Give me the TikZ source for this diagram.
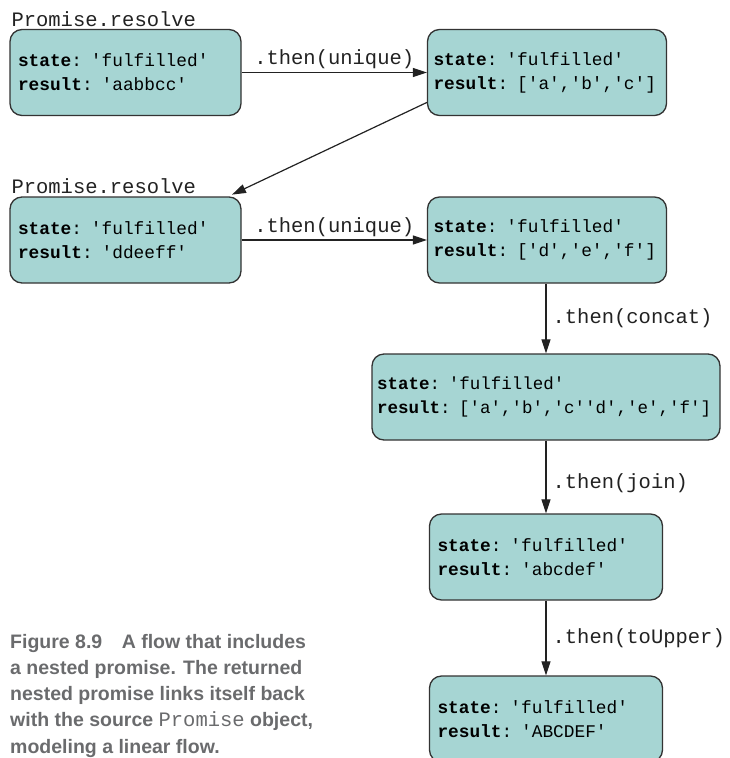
\documentclass[tikz,border=0pt]{standalone}
\usepackage{fontspec}
\setmonofont{Liberation Mono}
\setsansfont{Liberation Sans}
\usepackage{xcolor}
\usepackage{tikz}
\usetikzlibrary{arrows.meta, positioning}
\definecolor{boxfill}{HTML}{A6D5D3}
\definecolor{boxborder}{HTML}{333333}
\definecolor{arrowcol}{HTML}{222222}
\definecolor{captiongray}{HTML}{6A6B6D}
\tikzset{
    promise_box/.style={
        rectangle, rounded corners=12pt, minimum height=86pt, text width=#1,
        align=left, inner xsep=8pt, draw=boxborder, fill=boxfill, line width=1.3pt,
        font=\ttfamily\fontsize{17.8}{24}\selectfont
    },
    then_label/.style={
        font=\ttfamily\fontsize{20.5}{24}\selectfont, text=arrowcol, inner sep=3pt
    },
    arrow/.style={
        line width=1.2pt, -{Triangle[length=14pt, width=9pt]}, draw=arrowcol
    }
}

\begin{document}
\begin{tikzpicture}[x=1pt, y=-1pt]
    \useasboundingbox (0,0) rectangle (729,758);

    % Erste Kette
    \node[promise_box=215pt] (res_a) at (125.5, 72.5) {\textbf{state}: 'fulfilled'\\\textbf{result}: 'aabbcc'};
    \node[promise_box=227pt, inner xsep=6pt] (uniq_a) at (547, 72.5) {\textbf{state}: 'fulfilled'\\\textbf{result}: ['a','b','c']};
    \node[then_label, anchor=south west, inner sep=2pt] (lbl_res_a) at (res_a.north west) {Promise.resolve};
    \draw[arrow] (res_a.east) -- node[then_label, above] {.then(unique)} (uniq_a.west);

    % Verschachtelte Kette
    \node[promise_box=215pt] (res_d) at (125.5, 240) {\textbf{state}: 'fulfilled'\\\textbf{result}: 'ddeeff'};
    \node[promise_box=227pt, inner xsep=6pt] (uniq_d) at (547, 240) {\textbf{state}: 'fulfilled'\\\textbf{result}: ['d','e','f']};
    \node[then_label, anchor=south west, inner sep=2pt] (lbl_res_d) at (res_d.north west) {Promise.resolve};
    \draw[arrow] (res_d.east) -- node[then_label, above] {.then(unique)} (uniq_d.west);
    \draw[arrow, shorten >=4pt] (uniq_a.194) -- (res_d.23);

    % Zusammenfuehrung
    \node[promise_box=338pt, inner xsep=5pt, font=\ttfamily\fontsize{17.5}{24}\selectfont] (concat) at (546, 397) {\textbf{state}: 'fulfilled'\\\textbf{result}: ['a','b','c''d','e','f']};
    \node[promise_box=217pt] (joined) at (546, 557) {\textbf{state}: 'fulfilled'\\\textbf{result}: 'abcdef'};
    \node[promise_box=217pt] (upper) at (546, 719) {\textbf{state}: 'fulfilled'\\\textbf{result}: 'ABCDEF'};
    \draw[arrow] (uniq_d.south -| concat.north) -- node[then_label, right, inner sep=6pt] {.then(concat)} (concat.north);
    \draw[arrow] (concat.south) -- node[then_label, right, inner sep=6pt, yshift=-6pt] {.then(join)} (joined.north);
    \draw[arrow] (joined.south) -- node[then_label, right, inner sep=6pt] {.then(toUpper)} (upper.north);

    % Bildunterschrift
    \node[anchor=north west, inner sep=0pt, align=left, text=captiongray,
          font=\sffamily\bfseries\fontsize{19.5}{26.2}\selectfont] (caption) at (10, 634)
        {Figure 8.9\quad A flow that includes\\a nested promise. The returned\\nested promise links itself back\\with the source {\ttfamily\mdseries\fontsize{20.5}{26.2}\selectfont Promise} object,\\modeling a linear flow.};
\end{tikzpicture}
\end{document}
